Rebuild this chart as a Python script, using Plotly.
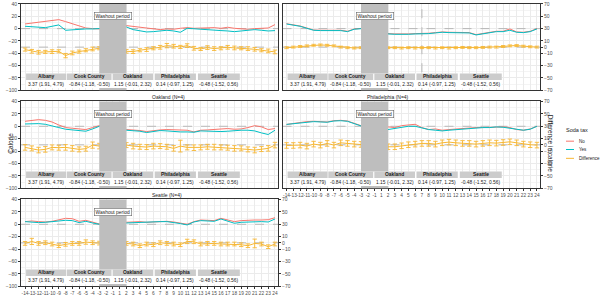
import plotly.graph_objects as go

# ---------------- data ----------------
categories = [str(m) for m in list(range(-14, 0)) + list(range(1, 25))]
months = [str(m) for m in list(range(-14, -2)) + list(range(2, 25))]

panels = ["Albany", "Cook County", "Oakland", "Philadelphia", "Seattle"]
panel_titles = ["Albany (N=4)", "Cook County (N=4)", "Oakland (N=4)", "Philadelphia (N=4)", "Seattle (N=4)"]

albany_no = [7.6, 9.2, 10.3, 11.4, 13.0, 14.6, 11.4, 7.6, 3.8, 1.0, 0.0, -0.5,
             4.9, 3.8, 1.6, 1.0, 0.5, -1.6, -0.5, -1.0, 0.5, 1.6, 0.5, 1.0, 0.5, 1.6, 0.5, 2.2, 0.5, -0.5, -1.0, 0.0, 0.0, 1.0, 6.5]
albany_yes = [3.8, 2.7, 1.6, 1.6, 3.8, 6.0, -2.7, -1.6, -1.0, -0.5, -0.5, 0.0,
              2.7, -1.6, -3.8, -5.4, -4.9, -3.8, -2.7, -3.8, -5.9, 0.5, 0.0, -0.5, -1.6, -2.7, -3.2, -3.8, -4.9, -3.8, -2.7, -1.6, -2.7, -3.8, -3.2]
albany_diff = [-4.0, -6.8, -8.4, -7.8, -7.3, -6.8, -13.8, -9.5, -7.3, -5.1, -3.0, -1.9,
               -6.8, -7.3, -5.1, -4.0, -1.9, -0.3, 2.4, 1.4, 0.3, 2.4, -1.9, -3.0, -0.8, -2.4, -1.9, -0.3, -1.4, -1.9, -2.4, -3.5, -5.1, -6.2, -7.8]
albany_err = [2.5, 3, 3, 2.5, 3, 2.5, 3.5, 3, 2.5, 2.5, 3, 2.5,
              3, 3, 2.5, 3, 2.5, 3, 3.5, 3, 2.5, 3, 3, 2.5, 3, 3, 2.5, 3, 3, 2.5, 3, 3, 2.5, 3, 3]

cook_no = [8.0, 6.5, 4.2, 1.0, -2.2, -2.7, -2.7, -1.6, -2.7, -4.3, -0.5, 0.3,
           -8.1, -8.6, -9.2, -8.6, -8.1, -8.1, -7.5, -6.5, -5.4, -5.9, -6.5, -5.9, -6.5, -9.7, -7.5, -5.4, -4.3, -4.3, -0.5, -5.4, -5.9, -4.3, 0.0]
cook_yes = [7.5, 6.0, 3.8, 0.5, -2.7, -3.2, -3.2, -2.2, -3.2, -4.9, -1.0, 0.0,
            -8.6, -9.2, -9.7, -9.2, -8.6, -8.6, -8.1, -7.0, -5.9, -6.5, -7.0, -6.5, -7.0, -10.3, -8.1, -5.9, -4.9, -4.9, -2.7, -5.9, -6.5, -4.9, -0.5]
cook_diff = [-1.0, 0.0, 1.0, 2.0, 3.0, 3.5, 3.0, 2.0, 0.0, -1.0, -1.5, -1.0,
             -1.0, -1.0, -1.5, -1.0, -1.5, -1.0, -1.0, -1.5, -1.0, -1.5, -1.0, -0.5, -1.0, -1.0, -0.5, 0.0, 0.0, 1.0, 2.0, 2.5, 1.5, 0.5, 0.0]
cook_err = [1.5] * 35

oak_no = [8.0, 9.0, 10.7, 9.6, 6.9, 2.1, -2.1, -3.2, -4.3, -5.3, -2.1, 1.0,
          -5.3, -5.9, -6.9, -8.5, -6.9, -5.9, -5.3, -5.9, -6.9, -6.4, -9.1, -6.4, -5.9, -5.3, -4.3, -3.7, -4.8, -4.3, -2.1, 1.0, -1.0, -5.3, -3.7]
oak_yes = [3.7, 4.3, 4.3, 3.2, 1.0, -2.1, -4.8, -5.9, -6.9, -8.0, -4.3, 0.0,
           -6.4, -6.9, -8.0, -10.1, -8.0, -6.9, -7.5, -8.5, -9.1, -9.1, -9.6, -7.5, -8.0, -9.1, -8.5, -8.0, -6.9, -6.4, -6.4, -7.5, -10.7, -13.3, -6.4]
oak_diff = [-4.1, -5.7, -8.4, -7.3, -4.1, -4.6, -4.1, -5.7, -7.3, -6.2, -0.4, -2.0,
            -0.4, -2.0, -3.1, -3.6, -2.0, -2.0, -3.1, -5.7, -2.0, -4.1, -4.6, -4.1, -3.1, -3.6, -4.1, -4.6, -5.7, -5.7, -7.3, -8.4, -6.8, -5.7, -0.4]
oak_err = [4.5, 4, 4.5, 4.5, 4, 4, 4.5, 4.5, 4, 4, 5, 4.5,
           4, 4.5, 4, 4, 4.5, 4, 4, 4.5, 9.5, 4, 4.5, 4, 4, 4.5, 4, 4, 4.5, 4, 4, 4.5, 4, 4.5, 4.5]

phl_no = [3.0, 4.5, 6.4, 7.5, 8.0, 7.5, 6.9, 9.0, 9.6, 8.5, 5.3, 1.0,
          -1.0, -2.1, 1.0, 2.1, 3.2, -2.1, -5.3, -4.3, -6.4, -5.3, -4.3, -4.3, -3.2, -2.1, -2.1, -1.6, -1.0, -1.0, -2.1, -5.3, -6.4, -4.3, 0.0]
phl_yes = [3.0, 4.2, 5.9, 7.2, 7.5, 7.0, 6.5, 8.5, 9.0, 8.0, 4.8, 0.5,
           -5.3, -3.7, -2.1, 0.0, 0.0, -3.2, -5.3, -6.4, -7.5, -6.4, -5.3, -4.3, -3.7, -3.2, -2.1, -2.1, -1.0, -1.6, -3.2, -4.3, -6.4, -4.8, 0.0]
phl_diff = [-1.0, -1.0, -0.4, -2.0, 1.2, -0.4, 2.3, -0.4, 3.3, 2.3, 1.2, 0.7,
            -3.1, -3.1, -1.5, 0.2, 1.2, 2.3, 2.3, 1.2, 3.3, 4.4, 3.3, 2.3, 2.3, 1.2, 2.3, 3.3, 2.8, 3.8, 4.9, 3.3, 1.2, 0.2, -0.4]
phl_err = [4.5] * 35

sea_no = [4.3, 5.3, 4.3, 3.7, 4.8, 7.4, 9.6, 9.0, 4.8, 6.4, 3.2, 0.5,
          3.2, 3.7, 4.3, 3.2, 3.7, 4.3, 4.8, 3.7, 2.1, 0.0, 4.3, 6.9, 6.4, 5.9, 9.6, 7.4, 4.3, 5.9, 6.9, 6.9, 6.9, 7.4, 10.6]
sea_yes = [4.3, 3.2, 2.7, 3.2, 3.7, 5.3, 6.4, 5.9, 2.7, 4.8, 2.1, 0.0,
           2.1, 2.7, 3.2, 3.2, 3.7, 4.3, 4.3, 3.2, 1.1, -1.1, 3.7, 5.9, 5.3, 4.8, 8.5, 5.3, 1.6, 3.2, 3.7, 4.3, 4.3, 3.7, 8.5]
sea_diff = [-0.9, 2.3, -0.9, 0.2, -1.9, -4.6, -2.4, -0.9, -0.9, 1.3, 0.2, -0.4,
            -0.9, -1.9, -4.6, -1.9, -3.0, 0.2, -0.9, -1.9, -3.0, 2.3, 1.8, -1.9, -0.9, -0.9, -1.9, -1.9, -1.9, -3.0, -4.6, -0.9, -1.9, -6.2, -1.9]
sea_err = [3, 5, 3, 3, 3, 3, 3, 3, 3, 3.5, 3, 3,
           3, 3, 3, 3, 3, 3, 3, 3, 3, 3.5, 3, 3, 3, 3, 3, 3, 3, 3, 3, 7, 3, 3, 3]

series_no = [albany_no, cook_no, oak_no, phl_no, sea_no]
series_yes = [albany_yes, cook_yes, oak_yes, phl_yes, sea_yes]
series_diff = [albany_diff, cook_diff, oak_diff, phl_diff, sea_diff]
series_err = [albany_err, cook_err, oak_err, phl_err, sea_err]

table_cities = ["Albany", "Cook County", "Oakland", "Philadelphia", "Seattle"]
table_values = ["3.37 (1.91, 4.79)", "-0.84 (-1.18, -0.50)", "1.15 (-0.01, 2.32)",
                "0.14 (-0.97, 1.25)", "-0.48 (-1.52, 0.56)"]

left_ticks = [-100, -80, -60, -40, -20, 0, 20, 40]
right_ticks = [-70, -50, -30, -10, 0, 10, 30, 50, 70]
washout = ("-3", "2")
washout_label_month = "-1"
repeal_month = "7"

# ---------------- styling ----------------
FONT = "Liberation Sans, Arial, sans-serif"
C_NO = "#F8766D"
C_YES = "#00BFC4"
C_DIFF = "#F7B733"
GRID = "#EBEBEB"
FRAME = "#333333"
TICKC = "#4D4D4D"
REFC = "#A0A0A0"

# month label -> position on the (linear) x axis, months run consecutively (no 0)
xpos = {m: i for i, m in enumerate(categories)}
x_vals = [xpos[m] for m in months]

XRANGE = [-0.6, 37.45]
col_dom = [[21 / 600, 278 / 600], [282.5 / 600, 540 / 600]]
row_dom = [[1 - 89 / 300, 1 - 1 / 300], [1 - 189 / 300, 1 - 100.5 / 300], [1 - 289 / 300, 1 - 200.5 / 300]]
pos = [(0, 0), (0, 1), (1, 0), (1, 1), (2, 0)]  # (row, col)
show_x = [False, False, False, True, True]
show_left = [True, False, True, False, True]
show_right = [False, True, False, True, True]

# table column bounds in x-axis units
tab_cols = [(0.15, 6.07), (6.17, 12.8), (12.97, 18.98), (19.2, 25.3), (25.6, 31.8)]
tab_head = (-73.0, -83.5)
tab_vals = (-83.5, -96.5)

fig = go.Figure()
layout = dict(
    width=600, height=300, margin=dict(l=0, r=0, t=0, b=0),
    paper_bgcolor="white", plot_bgcolor="white", showlegend=False,
    font=dict(family=FONT, size=5, color=TICKC),
)
shapes = []
annotations = []

for k in range(5):
    n = k + 1
    xs = "x" if n == 1 else f"x{n}"
    ys = "y" if n == 1 else f"y{n}"
    yr = f"y{n + 5}"
    r, c = pos[k]

    # dashed reference lines (zero calorie, zero difference)
    fig.add_trace(go.Scatter(x=XRANGE, y=[0, 0], xaxis=xs, yaxis=ys, mode="lines",
                             line=dict(color=REFC, width=0.7, dash="dash"), hoverinfo="skip"))
    fig.add_trace(go.Scatter(x=XRANGE, y=[0, 0], xaxis=xs, yaxis=yr, mode="lines",
                             line=dict(color=REFC, width=0.7, dash="dash"), hoverinfo="skip"))
    if k == 1:
        fig.add_trace(go.Scatter(x=[xpos[repeal_month]] * 2, y=[-100, 40], xaxis=xs, yaxis=ys,
                                 mode="lines", line=dict(color=REFC, width=0.7, dash="dash"),
                                 hoverinfo="skip"))

    fig.add_trace(go.Scatter(x=x_vals, y=series_no[k], xaxis=xs, yaxis=ys, mode="lines",
                             line=dict(color=C_NO, width=1), name="No"))
    fig.add_trace(go.Scatter(x=x_vals, y=series_yes[k], xaxis=xs, yaxis=ys, mode="lines",
                             line=dict(color=C_YES, width=1), name="Yes"))
    fig.add_trace(go.Scatter(x=x_vals, y=series_diff[k], xaxis=xs, yaxis=yr, mode="lines",
                             line=dict(color=C_DIFF, width=1), name="Difference",
                             error_y=dict(type="data", array=series_err[k], color=C_DIFF,
                                          thickness=0.9, width=2.2)))

    layout["xaxis" if n == 1 else f"xaxis{n}"] = dict(
        domain=col_dom[c], anchor=ys, range=XRANGE, tickmode="array",
        tickvals=list(range(len(categories))), ticktext=categories, tickangle=0,
        showticklabels=show_x[k], ticks="outside" if show_x[k] else "", ticklen=2,
        tickcolor=FRAME, tickwidth=0.6, tickfont=dict(size=4.8, color=TICKC),
        showgrid=True, gridcolor=GRID, gridwidth=0.6, zeroline=False,
        showline=True, mirror=True, linecolor=FRAME, linewidth=1,
    )
    layout["yaxis" if n == 1 else f"yaxis{n}"] = dict(
        domain=row_dom[r], anchor=xs, range=[-100, 40], tickmode="array",
        tickvals=left_ticks, showticklabels=show_left[k],
        ticks="outside" if show_left[k] else "", ticklen=2, tickcolor=FRAME, tickwidth=0.6,
        tickfont=dict(size=5, color=TICKC),
        showgrid=True, gridcolor=GRID, gridwidth=0.6, zeroline=False,
        minor=dict(tickmode="array", tickvals=[-90, -70, -50, -30, -10, 10, 30],
                   showgrid=True, gridcolor="#F4F4F4", gridwidth=0.5, ticks=""),
        showline=True, mirror=True, linecolor=FRAME, linewidth=1,
    )
    layout[f"yaxis{n + 5}"] = dict(
        overlaying=ys, anchor=xs, side="right", range=[-70, 70], tickmode="array",
        tickvals=right_ticks, showticklabels=show_right[k],
        ticks="outside" if show_right[k] else "", ticklen=2, tickcolor=FRAME, tickwidth=0.6,
        tickfont=dict(size=5, color=TICKC), showgrid=False, zeroline=False, showline=False,
    )

    # washout rectangle
    shapes.append(dict(type="rect", xref=xs, x0=xpos[washout[0]], x1=xpos[washout[1]],
                       yref=f"{ys} domain", y0=0, y1=1, fillcolor="#BEBEBE",
                       line=dict(width=0), layer="above"))
    # table background
    shapes.append(dict(type="rect", xref=xs, x0=tab_cols[0][0], x1=tab_cols[-1][1],
                       yref=ys, y0=tab_vals[1], y1=tab_head[0], fillcolor="white",
                       line=dict(width=0), layer="above"))
    for j, (a, b) in enumerate(tab_cols):
        shapes.append(dict(type="rect", xref=xs, x0=a, x1=b,
                           yref=ys, y0=tab_head[1], y1=tab_head[0], fillcolor="#CCCCCC",
                           line=dict(width=0), layer="above"))
        annotations.append(dict(xref=xs, x=(a + b) / 2, yref=ys,
                                y=sum(tab_head) / 2, text=f"<b>{table_cities[j]}</b>",
                                showarrow=False, font=dict(size=4.9, color="#1A1A1A")))
        annotations.append(dict(xref=xs, x=(a + b) / 2, yref=ys,
                                y=sum(tab_vals) / 2, text=table_values[j],
                                showarrow=False, font=dict(size=4.9, color="#1A1A1A")))
    # washout label
    annotations.append(dict(xref=xs, x=xpos[washout_label_month], yref=ys, y=20,
                            text="Washout period", showarrow=False,
                            font=dict(size=4.9, color="#1A1A1A"),
                            bgcolor="white", bordercolor="#666666", borderwidth=0.6, borderpad=1))
    # panel titles (top-row titles fall outside the visible area)
    if r > 0:
        annotations.append(dict(xref="paper", yref="paper",
                                x=(col_dom[c][0] + col_dom[c][1]) / 2,
                                y=row_dom[r][1] + 4.5 / 300, text=panel_titles[k],
                                showarrow=False, font=dict(size=5, color="#1A1A1A"),
                                yanchor="middle"))

# axis titles
annotations.append(dict(xref="paper", yref="paper", x=5 / 600, y=1 - 143 / 300, text="Calorie",
                        textangle=-90, showarrow=False, font=dict(size=6.5, color="#1A1A1A")))
annotations.append(dict(xref="paper", yref="paper", x=556 / 600, y=1 - 143 / 300,
                        text="Difference in calorie", textangle=90, showarrow=False,
                        font=dict(size=6.5, color="#1A1A1A")))

# legend (drawn manually)
annotations.append(dict(xref="paper", yref="paper", x=564 / 600, y=1 - 130 / 300, text="Soda tax",
                        xanchor="left", showarrow=False, font=dict(size=5.5, color="#1A1A1A")))
for lab, col, yy in [("No", C_NO, 141), ("Yes", C_YES, 149.5), ("Difference", C_DIFF, 158.5)]:
    shapes.append(dict(type="line", xref="paper", yref="paper", x0=566 / 600, x1=574 / 600,
                       y0=1 - yy / 300, y1=1 - yy / 300, line=dict(color=col, width=1)))
    annotations.append(dict(xref="paper", yref="paper", x=576.5 / 600, y=1 - yy / 300, text=lab,
                            xanchor="left", showarrow=False, font=dict(size=4.5, color="#1A1A1A")))

layout["shapes"] = shapes
layout["annotations"] = annotations
fig.update_layout(**layout)
fig.write_html("out.html")
